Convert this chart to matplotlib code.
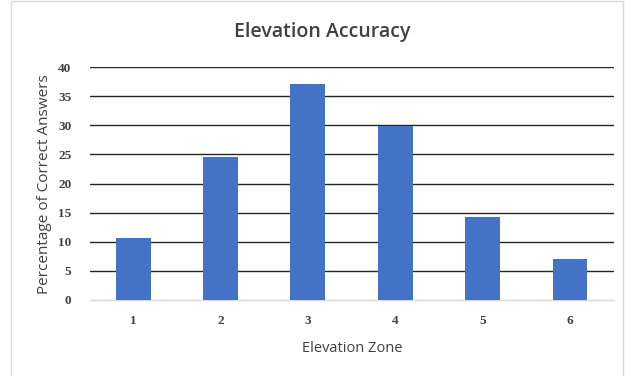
import matplotlib
matplotlib.use("Agg")
import matplotlib.pyplot as plt
from matplotlib.patches import Rectangle

zones = ["1", "2", "3", "4", "5", "6"]
accuracy = [10.6, 24.5, 37.1, 29.9, 14.3, 7.0]
y_ticks = [0, 5, 10, 15, 20, 25, 30, 35, 40]

title = "Elevation Accuracy"
x_label = "Elevation Zone"
y_label = "Percentage of Correct Answers"

bar_color = "#4472C4"
text_color = "#404040"

fig = plt.figure(figsize=(6.33, 3.76), dpi=100)
fig.patch.set_facecolor("white")

# thin chart-area frame
fig.patches.append(Rectangle((11 / 633, -0.01), (623 - 11) / 633, 1 - 1 / 376 + 0.01,
                             transform=fig.transFigure, fill=False,
                             edgecolor="#d9d9d9", linewidth=1.0))

ax = fig.add_axes([89.5 / 633, 76 / 376, (613.7 - 89.5) / 633, (309 - 76) / 376])
x = range(len(zones))
ax.bar(x, accuracy, width=0.4, color=bar_color, zorder=3)

ax.set_xlim(-0.5, len(zones) - 0.5)
ax.set_ylim(0, 40)
ax.set_yticks(y_ticks)
ax.set_xticks(list(x))
ax.set_xticklabels(zones)

for y in y_ticks[1:]:
    ax.axhline(y, color="#262626", linewidth=1.0, zorder=1)

for side in ["top", "right", "left"]:
    ax.spines[side].set_visible(False)
ax.spines["bottom"].set_color("#d9d9d9")
ax.spines["bottom"].set_linewidth(1.0)
ax.tick_params(axis="both", length=0)
ax.tick_params(axis="y", pad=13)
ax.tick_params(axis="x", pad=11)

for lbl in ax.get_yticklabels() + ax.get_xticklabels():
    lbl.set_fontfamily("Liberation Serif")
    lbl.set_fontweight("bold")
    lbl.set_fontsize(9.5)
    lbl.set_color(text_color)

fig.text(322 / 633, 1 - 32 / 376, title, ha="center", va="center",
         fontsize=14, color=text_color, family="Open Sans", fontweight="semibold")
fig.text(352 / 633, 1 - 348 / 376, x_label, ha="center", va="center",
         fontsize=10.5, color=text_color, family="Open Sans", fontweight="medium")
fig.text(45 / 633, 1 - 184 / 376, y_label, ha="center", va="center",
         rotation=90, fontsize=11, color=text_color, family="Open Sans", fontweight="medium")

fig.savefig("out.png", dpi=100, facecolor="white")
